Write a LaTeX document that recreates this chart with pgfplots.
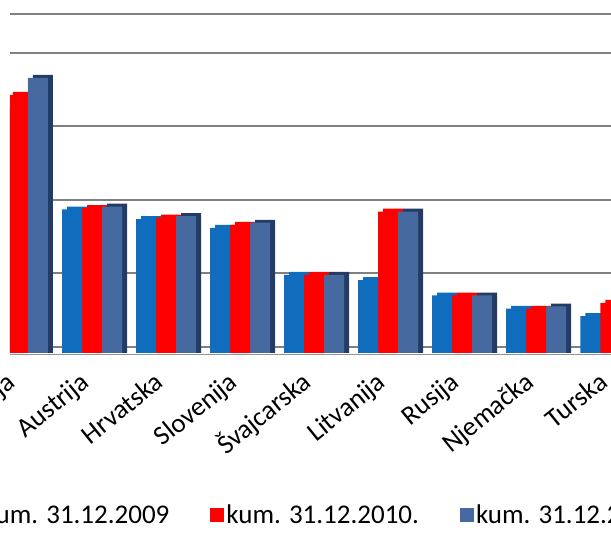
\documentclass[border=0pt]{standalone}
\usepackage{fontspec}
\setmainfont{Carlito}
\usepackage{pgfplots}
\usepackage{pgfplotstable}
\pgfplotsset{compat=1.18}
\definecolor{cA}{RGB}{16,108,188}
\definecolor{cB}{RGB}{255,0,0}
\definecolor{cC}{RGB}{70,105,160}
\definecolor{cCs}{RGB}{36,60,100}
\definecolor{gridc}{RGB}{128,128,128}
\pgfplotstableread{
x a b c
0 3.30 3.51 3.74
1 1.95 1.97 1.99
2 1.82 1.84 1.86
3 1.70 1.74 1.77
4 1.06 1.06 1.06
5 0.99 1.92 1.92
6 0.78 0.78 0.78
7 0.60 0.60 0.63
8 0.50 0.68 0.68
}\data
\begin{document}
\begin{tikzpicture}
\useasboundingbox (0,0) rectangle (611pt,543pt);
\clip (0,0) rectangle (611pt,543pt);
\begin{axis}[
  at={(10pt,188pt)}, anchor=south west,
  scale only axis, width=601pt, height=341pt,
  xmin=-0.108, xmax=8.01, ymin=-0.03, ymax=4.61,
  ybar, bar width=20pt,
  axis line style={draw=none},
  major tick length=0pt,
  ytick={0.08,1.08,2.08,3.08,4.08,4.61}, yticklabels={},
  ymajorgrids, grid style={gridc, line width=2pt},
  xtick={0,...,8},
  xticklabels={Italija,Austrija,Hrvatska,Slovenija,Švajcarska,Litvanija,Rusija,Njemačka,Turska},
  xticklabel style={yshift=-30pt, xshift=-1pt, rotate=39, anchor=base east, inner sep=0pt, font=\fontsize{27}{27}\selectfont},
  legend columns=3,
  legend style={at={(0,0)}, anchor=west, xshift=-43pt, yshift=-160pt, draw=none, fill=none,
    font=\fontsize{27}{27}\selectfont, inner sep=0pt,
    nodes={inner sep=2.5pt},
    /tikz/every even column/.append style={column sep=38pt}},
  legend cell align=left,
  legend image code/.code={\fill[#1] (0pt,-7pt) rectangle (14pt,7pt);},
]
\addplot[draw=none, fill=cA, bar shift=-15pt, forget plot] table[x=x, y expr=\thisrow{a}+0.04] {\data};
\addplot[draw=none, fill=cA, bar shift=-20pt] table[x=x, y=a] {\data};
\addplot[draw=none, fill=cB, bar shift=5pt, forget plot] table[x=x, y expr=\thisrow{b}+0.04] {\data};
\addplot[draw=none, fill=cB, bar shift=0pt] table[x=x, y=b] {\data};
\addplot[draw=none, fill=cCs, bar shift=25pt, forget plot] table[x=x, y expr=\thisrow{c}+0.04] {\data};
\addplot[draw=none, fill=cC, bar shift=20pt] table[x=x, y=c] {\data};
\draw[gridc!85, line width=2.5pt] (rel axis cs:0,0) -- (rel axis cs:1,0);
\legend{kum. 31.12.2009, kum. 31.12.2010., kum. 31.12.2011.}
\end{axis}
\end{tikzpicture}
\end{document}
